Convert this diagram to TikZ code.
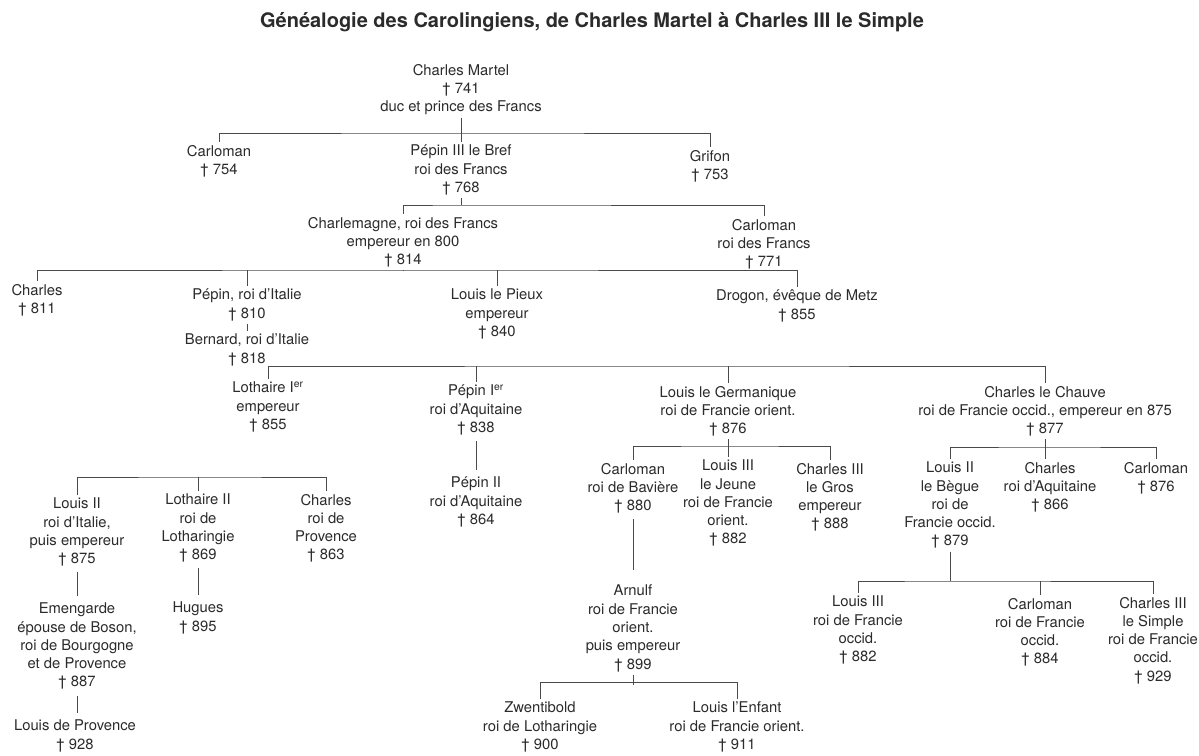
\documentclass[tikz,border=0pt]{standalone}
\usepackage{fontspec}
\setmainfont{TeX Gyre Heros}
\definecolor{ink}{HTML}{2B2B2B}
\definecolor{rulegray}{HTML}{4A4A4A}
\begin{document}
\begin{tikzpicture}[x=1pt,y=-1pt,
  person/.style={align=center,inner sep=0pt,outer sep=3pt,anchor=north,text=ink,
                 font=\fontsize{14.8}{18.3}\selectfont},
  link/.style={draw=rulegray,line width=0.9pt},
  stem/.style={link,shorten <=3pt,shorten >=4pt}]
\useasboundingbox[fill=white] (0,0) rectangle (1199,755);

\node[font=\bfseries\fontsize{20}{24}\selectfont,text=ink] (title) at (592,22)
  {Généalogie des Carolingiens, de Charles Martel à Charles III le Simple};

% generation 1-2
\node[person] (cm) at (461,61) {Charles Martel\\† 741\\duc et prince des Francs};
\node[person] (carl1) at (219,142) {Carloman\\† 754};
\node[person] (p3) at (461,142) {Pépin III le Bref\\roi des Francs\\† 768};
\node[person] (grifon) at (710,147) {Grifon\\† 753};
% generation 3
\node[person] (charlemagne) at (403,214) {Charlemagne, roi des Francs\\empereur en 800\\† 814};
\node[person] (carl2) at (764,216) {Carloman\\roi des Francs\\† 771};
% generation 4
\node[person] (charles) at (37,281) {Charles\\† 811};
\node[person] (pepinit) at (247,286) {Pépin, roi d’Italie\\† 810};
\node[person] (bernard) at (247,331) {Bernard, roi d’Italie\\† 818};
\node[person] (llp) at (497,286) {Louis le Pieux\\empereur\\† 840};
\node[person] (drogon) at (797,287) {Drogon, évêque de Metz\\† 855};
% generation 5
\node[person] (loth1) at (268,379) {Lothaire I\textsuperscript{er}\\empereur\\† 855};
\node[person] (pep1) at (476,382) {Pépin I\textsuperscript{er}\\roi d’Aquitaine\\† 838};
\node[person] (lgerm) at (728,383) {Louis le Germanique\\roi de Francie orient.\\† 876};
\node[person] (chauve) at (1045,383) {Charles le Chauve\\roi de Francie occid., empereur en 875\\† 877};
% generation 6
\node[person] (pep2) at (476,474) {Pépin II\\roi d’Aquitaine\\† 864};
\node[person] (louis2) at (77,495) {Louis II\\roi d’Italie,\\puis empereur\\† 875};
\node[person] (loth2) at (198,491) {Lothaire II\\roi de\\Lotharingie\\† 869};
\node[person] (charlesprov) at (326,491) {Charles\\roi de\\Provence\\† 863};
\node[person] (emengarde) at (77,600) {Emengarde\\épouse de Boson,\\roi de Bourgogne\\et de Provence\\† 887};
\node[person] (louisprov) at (75,717) {Louis de Provence\\† 928};
\node[person] (hugues) at (198,599) {Hugues\\† 895};
\node[person] (carlbav) at (633,460) {Carloman\\roi de Bavière\\† 880};
\node[person] (louis3j) at (728,457) {Louis III\\le Jeune\\roi de Francie\\orient.\\† 882};
\node[person] (charles3g) at (830,460) {Charles III\\le Gros\\empereur\\† 888};
\node[person] (arnulf) at (633,582) {Arnulf\\roi de Francie\\orient.\\puis empereur\\† 899};
\node[person] (zwenti) at (540,699) {Zwentibold\\roi de Lotharingie\\† 900};
\node[person] (lenfant) at (737,699) {Louis l’Enfant\\roi de Francie orient.\\† 911};
\node[person] (lbegue) at (950,459) {Louis II\\le Bègue\\roi de\\Francie occid.\\† 879};
\node[person] (charlesaq) at (1050,459) {Charles\\roi d’Aquitaine\\† 866};
\node[person] (carl876) at (1156,459) {Carloman\\† 876};
\node[person] (louis3o) at (858,593) {Louis III\\roi de Francie\\occid.\\† 882};
\node[person] (carl884) at (1040,595) {Carloman\\roi de Francie\\occid.\\† 884};
\node[person] (charles3s) at (1153,594) {Charles III\\le Simple\\roi de Francie\\occid.\\† 929};

% bracket levels
\coordinate (b1) at (461,133);
\coordinate (b2) at (461,205);
\coordinate (b3) at (403,270);
\coordinate (b4) at (657,366);
\coordinate (b5) at (198,477);
\coordinate (b6) at (728,446);
\coordinate (b7) at (633,682);
\coordinate (b8) at (1046,447);
\coordinate (b9) at (950,581);

% Charles Martel
\draw[link] (cm.south) -- (cm.south |- p3.north);
\draw[link] (carl1.north) |- (b1) -| (grifon.north);
% Pepin III
\draw[link] (p3.south) -- (p3.south |- b2);
\draw[link] (charlemagne.north) |- (b2) -| (carl2.north);
% Charlemagne
\draw[link] (charlemagne.south) -- (charlemagne.south |- b3);
\draw[link] (charles.north) |- (b3) -| (drogon.north);
\draw[link] (pepinit.north) -- (pepinit.north |- b3);
\draw[link] (llp.north) -- (llp.north |- b3);
% Pepin roi d'Italie
\draw[link] (pepinit.south) -- (pepinit.south |- bernard.north);
% Louis le Pieux
\draw[link] (loth1.north) |- (b4) -| (chauve.north);
\draw[link] (pep1.north) -- (pep1.north |- b4);
\draw[link] (lgerm.north) -- (lgerm.north |- b4);
% Pepin I
\draw[stem] (pep1.south) -- (pep1.south |- pep2.north);
% Lothaire I
\draw[link] (louis2.north) |- (b5) -| (charlesprov.north);
\draw[link] (loth2.north) -- (loth2.north |- b5);
\draw[stem] (louis2.south) -- (louis2.south |- emengarde.north);
\draw[stem] (emengarde.south) -- (emengarde.south |- louisprov.north);
\draw[stem] (loth2.south) -- (loth2.south |- hugues.north);
% Louis le Germanique
\draw[link] (lgerm.south) -- (lgerm.south |- louis3j.north);
\draw[link] (carlbav.north) |- (b6) -| (charles3g.north);
\draw[stem,shorten >=12pt] (carlbav.south) -- (carlbav.south |- arnulf.north);
% Arnulf
\draw[link] (arnulf.south) -- ([yshift=-3pt]arnulf.south |- b7);
\draw[link] (zwenti.north) |- (b7) -| (lenfant.north);
% Charles le Chauve
\draw[link] (chauve.south) -- (chauve.south |- charlesaq.north);
\draw[link] (lbegue.north) |- (b8) -| (carl876.north);
% Louis II le Begue
\draw[link] (lbegue.south) -- (lbegue.south |- b9);
\draw[link] (louis3o.north) |- (b9) -| (charles3s.north);
\draw[link] (carl884.north) -- (carl884.north |- b9);
\end{tikzpicture}
\end{document}
